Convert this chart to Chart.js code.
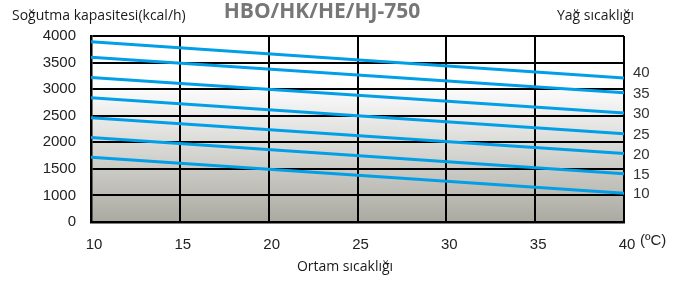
<!DOCTYPE html>
<html>
<head>
<meta charset="utf-8">
<script src="https://cdn.jsdelivr.net/npm/chart.js@4"></script>
<style>
html,body{margin:0;padding:0;background:#fff;}
#wrap{width:687px;height:282px;position:relative;}
</style>
</head>
<body>
<div id="wrap"><canvas id="c" width="687" height="282"></canvas></div>
<script>
// Data (kcal/h)
const ambientTemps = [10, 40];
const oilTemps = [40, 35, 30, 25, 20, 15, 10];
const cap40 = [3890, 3210];
const cap35 = [3600, 2930];
const cap30 = [3220, 2550];
const cap25 = [2840, 2160];
const cap20 = [2460, 1790];
const cap15 = [2090, 1410];
const cap10 = [1720, 1040];
const seriesValues = [cap40, cap35, cap30, cap25, cap20, cap15, cap10];
const yTickLabels = {500: '0'}; // bottom of broken axis labelled 0
const titleText = 'HBO/HK/HE/HJ-750';
const yTitle = 'Soğutma kapasitesi(kcal/h)';
const xTitle = 'Ortam sıcaklığı';
const legendTitle = 'Yağ sıcaklığı';
const unitText = '(ºC)';

const datasets = seriesValues.map((vals, i) => ({
  label: String(oilTemps[i]),
  data: ambientTemps.map((x, j) => ({x: x, y: vals[j]})),
  borderColor: '#009fe6',
  borderWidth: 3,
  pointRadius: 0,
  fill: false,
  tension: 0
}));

const decor = {
  id: 'decor',
  beforeDraw(chart) {
    const {ctx, chartArea: a} = chart;
    const g = ctx.createLinearGradient(0, a.top, 0, a.bottom);
    g.addColorStop(0, '#ffffff');
    g.addColorStop(0.25, '#fefefe');
    g.addColorStop(0.35, '#f4f4f4');
    g.addColorStop(1, '#abaaa1');
    ctx.save();
    ctx.fillStyle = g;
    ctx.fillRect(a.left, a.top, a.right - a.left, a.bottom - a.top);
    ctx.restore();
  },
  afterDraw(chart) {
    const {ctx, chartArea: a} = chart;
    ctx.save();
    ctx.textBaseline = 'middle';
    ctx.fillStyle = '#1a1a1a';
    ctx.font = '14px "Open Sans"';
    ctx.textAlign = 'left';
    ctx.fillText(yTitle, 12, 16);
    ctx.fillText(legendTitle, 557, 16);
    ctx.textAlign = 'center';
    ctx.fillText(xTitle, 345, 267);
    ctx.fillStyle = '#777777';
    ctx.font = 'bold 21px "Open Sans"';
    ctx.fillText(titleText, 322, 12);
    ctx.fillStyle = '#222';
    ctx.font = '15px "Liberation Sans"';
    ctx.textAlign = 'left';
    ctx.fillText(unitText, 640, 241);
    // oil temperature labels at line ends
    ctx.fillStyle = '#333';
    chart.data.datasets.forEach((ds, i) => {
      const meta = chart.getDatasetMeta(i);
      const p = meta.data[meta.data.length - 1];
      let y = p.y + 1;
      if (i === 0) y -= 6;
      ctx.fillText(ds.label, 633, y);
    });
    ctx.restore();
  }
};

new Chart(document.getElementById('c'), {
  type: 'line',
  data: {datasets},
  options: {
    responsive: false,
    animation: false,
    layout: {padding: {top: 36, right: 63, left: 0, bottom: 0}},
    plugins: {legend: {display: false}, tooltip: {enabled: false}},
    scales: {
      x: {
        type: 'linear', min: 10, max: 40,
        afterFit(s) { s.height = 60; },
        ticks: {stepSize: 5, color: '#222', font: {family: 'Liberation Sans', size: 15}, padding: 14, labelOffset: 3, maxRotation: 0},
        grid: {color: '#000', lineWidth: 2, drawTicks: false},
        border: {color: '#000', width: 2.5}
      },
      y: {
        type: 'linear', min: 500, max: 4000,
        afterFit(s) { s.width = 91; },
        ticks: {stepSize: 500, color: '#222', font: {family: 'Liberation Sans', size: 15}, padding: 15,
          callback: v => (yTickLabels[v] !== undefined ? yTickLabels[v] : v)},
        grid: {color: '#000', lineWidth: 2, drawTicks: false},
        border: {color: '#000', width: 2.5}
      }
    }
  },
  plugins: [decor]
});
</script>
</body>
</html>
